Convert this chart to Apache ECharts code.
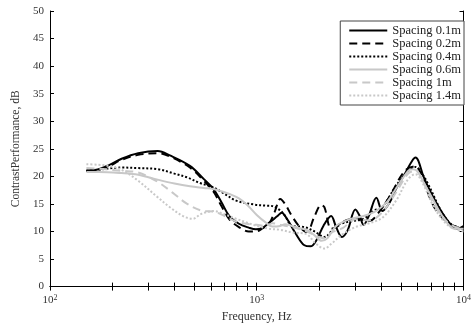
<!DOCTYPE html>
<html>
<head>
<meta charset="utf-8">
<script src="https://cdn.jsdelivr.net/npm/echarts@6/dist/echarts.min.js"></script>
<style>
  html, body { margin: 0; padding: 0; background: #fff; }
  #chart { width: 474px; height: 328px; }
</style>
</head>
<body>
<div id="chart"></div>
<script>
// Contrast performance vs frequency for several loudspeaker spacings
const seriesNames = ['Spacing 0.1m', 'Spacing 0.2m', 'Spacing 0.4m', 'Spacing 0.6m', 'Spacing 1m', 'Spacing 1.4m'];

// [frequency Hz, contrast dB]
const spacing01 = [[150,21.0],[172,21.3],[192,22.0],[222,23.2],[267,24.2],[332,24.6],[380,23.8],[475,21.9],[555,19.5],[618,17.7],[675,15.3],[737,12.8],[820,11.4],[915,10.7],[990,10.4],[1060,10.6],[1150,11.6],[1260,12.8],[1320,13.4],[1400,12.3],[1550,9.5],[1700,7.5],[1820,7.3],[1950,8.5],[2100,11.0],[2290,12.8],[2420,10.8],[2580,9.0],[2750,10.2],[3000,14.0],[3150,12.8],[3285,11.2],[3480,12.8],[3790,16.1],[4050,13.7],[4400,15.3],[4710,17.7],[5250,20.7],[5600,22.6],[5860,23.4],[6050,22.8],[6400,20.0],[7100,16.4],[7860,13.5],[8800,11.0],[9300,10.5],[10000,11.0]];
const spacing02 = [[150,21.0],[172,21.2],[192,21.8],[222,23.0],[267,23.9],[332,24.2],[380,23.6],[475,21.6],[555,19.2],[618,17.2],[675,14.6],[737,12.2],[820,10.8],[915,10.0],[990,10.0],[1060,10.5],[1150,11.5],[1220,13.5],[1300,15.9],[1370,15.0],[1480,12.8],[1617,10.8],[1745,9.9],[1905,12.8],[2050,14.8],[2124,14.4],[2290,10.5],[2420,10.8],[2700,12.0],[3000,12.3],[3500,11.9],[3900,13.5],[4400,16.4],[5200,21.0],[5860,21.8],[6300,20.0],[7300,14.1],[9000,11.0],[10000,10.8]];
const spacing04 = [[150,21.0],[180,21.3],[222,21.6],[267,21.5],[332,21.3],[400,20.5],[461,19.8],[530,18.8],[618,18.0],[700,16.8],[795,15.6],[968,14.9],[1103,14.7],[1191,14.6],[1300,13.8],[1372,12.8],[1482,11.0],[1700,10.8],[1905,10.0],[2124,9.0],[2420,11.0],[2800,11.8],[3285,12.3],[3700,13.8],[4050,14.4],[4700,18.2],[5400,21.0],[5860,21.7],[6300,20.5],[6824,18.2],[7860,13.5],[8800,11.2],[10000,10.5]];
const spacing06 = [[150,20.8],[172,20.8],[222,20.6],[267,20.3],[332,19.4],[400,18.7],[475,18.2],[555,17.9],[618,17.7],[675,17.3],[737,16.8],[820,16.0],[900,14.8],[1000,13.0],[1100,11.7],[1191,10.9],[1300,11.0],[1372,11.3],[1482,11.0],[1617,10.6],[1745,10.3],[1905,9.3],[2056,8.3],[2200,8.8],[2421,11.0],[2800,12.2],[3285,12.8],[3800,13.8],[4300,15.5],[4700,17.7],[5400,21.0],[5700,21.3],[6000,20.9],[6500,18.5],[7100,15.9],[8000,12.5],[9065,10.5],[10000,10.5]];
const spacing10 = [[150,21.5],[172,21.4],[222,21.0],[267,20.7],[332,19.0],[390,17.1],[461,15.0],[555,13.7],[618,13.6],[700,12.8],[795,11.8],[890,11.4],[1000,11.2],[1100,11.0],[1191,11.5],[1300,11.2],[1482,10.8],[1745,10.0],[2000,9.0],[2124,8.8],[2300,9.8],[2600,10.6],[3000,12.2],[3500,12.0],[4050,13.5],[4700,17.0],[5400,20.5],[5860,21.0],[6300,19.5],[7300,14.5],[8500,11.5],[10000,10.3]];
const spacing14 = [[150,22.2],[172,22.1],[192,21.9],[222,21.2],[267,19.2],[332,16.2],[380,14.4],[440,12.8],[490,12.3],[540,13.2],[618,13.7],[690,13.2],[795,12.3],[900,11.6],[1000,11.0],[1150,10.5],[1300,10.3],[1500,9.8],[1745,9.5],[1905,8.0],[2124,6.9],[2300,7.8],[2600,9.5],[3000,10.8],[3500,11.5],[4050,12.5],[4700,15.5],[5400,19.5],[5860,20.4],[6300,19.0],[7300,14.0],[8500,11.0],[10000,10.0]];

const yTicks = [0, 5, 10, 15, 20, 25, 30, 35, 40, 45, 50];
const xMajorTicks = [100, 1000, 10000];
const xAllTicks = [100,200,300,400,500,600,700,800,900,1000,2000,3000,4000,5000,6000,7000,8000,9000,10000];

const serif = '"Liberation Serif", "Times New Roman", serif';
const black = '#000000';
const grey = '#c8c8c8';

function lineSeries(name, data, color, type) {
  return {
    name: name,
    type: 'line',
    data: data,
    xAxisIndex: 0,
    yAxisIndex: 0,
    showSymbol: false,
    symbol: 'none',
    smooth: 0.35,
    lineStyle: { color: color, width: 2, type: type },
    itemStyle: { color: color },
    emphasis: { disabled: true }
  };
}

const chart = echarts.init(document.getElementById('chart'), null, { renderer: 'canvas' });

const tickLabel = { fontFamily: serif, fontSize: 11, color: '#333' };

chart.setOption({
  animation: false,
  backgroundColor: '#ffffff',
  grid: { left: 50, right: 2, top: 11, bottom: 40, show: false },
  legend: {
    data: seriesNames,
    orient: 'vertical',
    right: 10,
    top: 21,
    itemWidth: 38,
    itemHeight: 10,
    itemGap: 0,
    padding: [3, 3, 3, 8],
    backgroundColor: '#fff',
    borderColor: '#444',
    borderWidth: 1,
    borderRadius: 0,
    // only the line sample is shown in each legend entry
    itemStyle: { color: 'rgba(0,0,0,0)', borderWidth: 0, opacity: 0 },
    textStyle: { fontFamily: serif, fontSize: 12.5, lineHeight: 10, color: '#222' }
  },
  xAxis: [
    {
      type: 'log', logBase: 10, min: 100, max: 10000,
      position: 'bottom',
      name: 'Frequency, Hz', nameLocation: 'middle', nameGap: 22,
      nameTextStyle: { fontFamily: serif, fontSize: 12, color: '#333' },
      axisLine: { show: true, lineStyle: { color: '#000', width: 1 } },
      axisTick: { show: true, inside: true, length: 4, customValues: xAllTicks, lineStyle: { color: '#000' } },
      axisLabel: {
        show: true, margin: 7, customValues: xMajorTicks,
        formatter: function (v) { return '10{sup|' + Math.round(Math.log10(v)) + '}'; },
        fontFamily: serif, fontSize: 11, color: '#333',
        rich: { sup: { fontFamily: serif, fontSize: 8, color: '#333', verticalAlign: 'top', padding: [0, 0, 6, 0] } }
      },
      splitLine: { show: false }, minorTick: { show: false }
    },
    {
      type: 'log', logBase: 10, min: 100, max: 10000,
      position: 'top',
      axisLine: { show: true, lineStyle: { color: '#000', width: 1 } },
      axisTick: { show: true, inside: true, length: 4, customValues: xAllTicks, lineStyle: { color: '#000' } },
      axisLabel: { show: false },
      splitLine: { show: false }
    }
  ],
  yAxis: [
    {
      type: 'value', min: 0, max: 50, interval: 5,
      position: 'left',
      name: 'ContrastPerformance, dB', nameLocation: 'middle', nameGap: 22,
      nameTextStyle: { fontFamily: serif, fontSize: 11.5, color: '#333' },
      axisLine: { show: true, lineStyle: { color: '#000', width: 1 } },
      axisTick: { show: true, inside: true, length: 4, lineStyle: { color: '#000' } },
      axisLabel: Object.assign({ margin: 6, customValues: yTicks }, tickLabel),
      splitLine: { show: false }
    },
    {
      type: 'value', min: 0, max: 50, interval: 5,
      position: 'right',
      axisLine: { show: true, lineStyle: { color: '#000', width: 1 } },
      axisTick: { show: true, inside: true, length: 4, lineStyle: { color: '#000' } },
      axisLabel: { show: false },
      splitLine: { show: false }
    }
  ],
  series: [
    lineSeries(seriesNames[0], spacing01, black, 'solid'),
    lineSeries(seriesNames[1], spacing02, black, [8, 5]),
    lineSeries(seriesNames[2], spacing04, black, [2, 2]),
    lineSeries(seriesNames[3], spacing06, grey, 'solid'),
    lineSeries(seriesNames[4], spacing10, grey, [8, 5]),
    lineSeries(seriesNames[5], spacing14, grey, [2, 2])
  ]
});
</script>
</body>
</html>
